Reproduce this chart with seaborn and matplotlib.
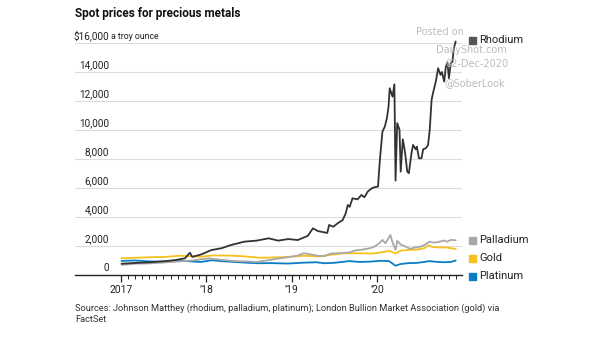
import matplotlib
matplotlib.use("Agg")
import matplotlib.pyplot as plt
import matplotlib.dates as mdates
import matplotlib.transforms as mtrans
import seaborn as sns
import pandas as pd

# ---------------- data ----------------
rhodium_dates = ["2017-01-03", "2017-03-01", "2017-05-05", "2017-07-05", "2017-08-20", "2017-10-01",
                 "2017-10-22", "2017-11-01", "2017-12-10", "2018-01-22", "2018-03-07", "2018-04-16",
                 "2018-06-12", "2018-08-03", "2018-09-24", "2018-11-03", "2018-12-17", "2019-01-26",
                 "2019-03-10", "2019-04-01", "2019-04-22", "2019-06-01", "2019-06-09", "2019-06-27",
                 "2019-07-15", "2019-08-06", "2019-08-19", "2019-08-28", "2019-09-05", "2019-09-17",
                 "2019-10-09", "2019-10-25", "2019-11-07", "2019-11-21", "2019-12-08", "2019-12-20",
                 "2020-01-04", "2020-01-12", "2020-01-23", "2020-02-02", "2020-02-11", "2020-02-18",
                 "2020-02-23", "2020-03-06", "2020-03-14", "2020-03-19", "2020-03-26", "2020-04-05",
                 "2020-04-10", "2020-04-19", "2020-04-29", "2020-05-08", "2020-05-15", "2020-05-26",
                 "2020-06-02", "2020-06-13", "2020-06-18", "2020-06-27", "2020-07-08", "2020-07-15",
                 "2020-07-26", "2020-08-05", "2020-08-12", "2020-08-20", "2020-08-26", "2020-09-07",
                 "2020-09-17", "2020-09-27", "2020-10-03", "2020-10-13", "2020-10-20", "2020-10-27",
                 "2020-11-02", "2020-11-10", "2020-11-17", "2020-11-23", "2020-12-01"]
rhodium_values = [780, 830, 880, 950, 1030, 1150,
                  1540, 1250, 1420, 1720, 1850, 2070,
                  2300, 2370, 2530, 2370, 2480, 2410,
                  2700, 3220, 3030, 2900, 3450, 3330,
                  3560, 3790, 4250, 4830, 4700, 5290,
                  5220, 5520, 5360, 5750, 5980, 6050,
                  6100, 7940, 9890, 10230, 10810, 11600,
                  12880, 12300, 13150, 6510, 10470, 10010,
                  7130, 9360, 8400, 7130, 7020, 8400,
                  8970, 8670, 8850, 8050, 8050, 8670,
                  8740, 8970, 10000, 12070, 12540, 13340,
                  14260, 13800, 14000, 13340, 14370, 14650,
                  13570, 14600, 14700, 15640, 16100]

palladium_dates = ["2017-01-03", "2017-03-01", "2017-05-01", "2017-07-01", "2017-09-01", "2017-11-01",
                   "2018-01-10", "2018-03-01", "2018-05-01", "2018-07-01", "2018-08-01", "2018-09-15",
                   "2018-11-01", "2018-12-17", "2019-01-26", "2019-02-20", "2019-03-20", "2019-04-20",
                   "2019-05-20", "2019-06-15", "2019-07-15", "2019-09-01", "2019-10-01", "2019-11-01",
                   "2019-12-01", "2019-12-20", "2020-01-10", "2020-01-23", "2020-02-05", "2020-02-26",
                   "2020-03-05", "2020-03-19", "2020-03-26", "2020-04-10", "2020-05-01", "2020-05-20",
                   "2020-06-10", "2020-06-30", "2020-07-20", "2020-08-12", "2020-09-01", "2020-09-25",
                   "2020-10-10", "2020-10-25", "2020-11-10", "2020-12-01"]
palladium_values = [700, 780, 800, 860, 930, 1000,
                    1150, 1050, 960, 930, 900, 1000,
                    1130, 1230, 1340, 1500, 1430, 1330,
                    1300, 1480, 1500, 1550, 1700, 1760,
                    1850, 1960, 2200, 2420, 2190, 2760,
                    2300, 1730, 2350, 2100, 1960, 1800,
                    1900, 1940, 2070, 2300, 2230, 2300,
                    2380, 2300, 2420, 2400]

gold_dates = ["2017-01-03", "2017-03-15", "2017-05-15", "2017-07-01", "2017-09-10", "2017-12-10",
              "2018-01-25", "2018-04-10", "2018-06-01", "2018-08-15", "2018-10-01", "2018-12-17",
              "2019-02-20", "2019-05-01", "2019-06-25", "2019-08-15", "2019-10-01", "2019-12-15",
              "2020-01-15", "2020-02-24", "2020-03-19", "2020-04-10", "2020-05-15", "2020-06-20",
              "2020-07-20", "2020-08-06", "2020-08-25", "2020-09-20", "2020-10-20", "2020-12-01"]
gold_values = [1150, 1200, 1230, 1240, 1330, 1260,
               1350, 1340, 1300, 1190, 1200, 1250,
               1330, 1280, 1410, 1500, 1500, 1480,
               1560, 1660, 1480, 1680, 1730, 1750,
               1850, 2050, 1930, 1900, 1900, 1800]

platinum_dates = ["2017-01-03", "2017-03-01", "2017-05-01", "2017-07-01", "2017-09-05", "2017-11-01",
                  "2017-12-10", "2018-01-22", "2018-03-01", "2018-05-01", "2018-07-01", "2018-08-15",
                  "2018-10-01", "2018-12-17", "2019-02-20", "2019-04-15", "2019-05-20", "2019-07-01",
                  "2019-09-05", "2019-10-15", "2019-12-01", "2020-01-15", "2020-02-20", "2020-03-19",
                  "2020-04-10", "2020-05-15", "2020-06-15", "2020-07-20", "2020-08-10", "2020-09-15",
                  "2020-10-15", "2020-11-10", "2020-12-01"]
platinum_values = [970, 1000, 940, 920, 990, 930,
                   900, 1020, 960, 900, 840, 810,
                   820, 790, 850, 880, 810, 840,
                   960, 900, 920, 980, 960, 640,
                   760, 820, 830, 900, 960, 900,
                   880, 900, 1000]

metals = ["Rhodium", "Palladium", "Gold", "Platinum"]
colors = {"Rhodium": "#333333", "Palladium": "#a8a8a8", "Gold": "#f5c21b", "Platinum": "#0a7dc2"}
legend_colors = {"Rhodium": "#555555", "Palladium": "#a8a8a8", "Gold": "#f5c21b", "Platinum": "#0a7dc2"}

y_ticks = [0, 2000, 4000, 6000, 8000, 10000, 12000, 14000, 16000]
y_labels = ["0", "2,000", "4,000", "6,000", "8,000", "10,000", "12,000", "14,000", "$16,000"]
x_ticks = ["2017-01-01", "2018-01-01", "2019-01-01", "2020-01-01"]
x_labels = ["2017", "\u201918", "\u201919", "\u201920"]

title = "Spot prices for precious metals"
unit = "a troy ounce"
source = ("Sources: Johnson Matthey (rhodium, palladium, platinum); London Bullion Market Association (gold) via\n"
          "FactSet")

frames = []
for name, d, v in [("Platinum", platinum_dates, platinum_values),
                   ("Gold", gold_dates, gold_values),
                   ("Palladium", palladium_dates, palladium_values),
                   ("Rhodium", rhodium_dates, rhodium_values)]:
    frames.append(pd.DataFrame({"date": pd.to_datetime(d), "price": v, "metal": name}))
df = pd.concat(frames, ignore_index=True)

# ---------------- style ----------------
sns.set_theme(style="white")
plt.rcParams["font.family"] = ["Roboto", "DejaVu Sans"]

fig = plt.figure(figsize=(6.05, 3.41), dpi=100)
ax = fig.add_axes([75 / 605, 1 - 275 / 341, (462 - 75) / 605, (275 - 43) / 341])

for name in ["Platinum", "Gold", "Palladium", "Rhodium"]:
    sub = df[df["metal"] == name]
    sns.lineplot(data=sub, x="date", y="price", ax=ax, color=colors[name],
                 linewidth=1.3, legend=False, clip_on=False)

ax.set_xlim(pd.Timestamp("2016-06-18"), pd.Timestamp("2020-12-28"))
ax.set_ylim(0, 16000)
ax.set_xlabel("")
ax.set_ylabel("")

for s in ["top", "right", "left"]:
    ax.spines[s].set_visible(False)
ax.spines["bottom"].set_color("#222222")
ax.spines["bottom"].set_linewidth(1.0)

for v in y_ticks[1:]:
    ax.axhline(v, color="#dcdcdc", linewidth=0.8, zorder=0)
ax.set_yticks([])

ax.set_xticks(pd.to_datetime(x_ticks))
ax.set_xticklabels(x_labels, fontsize=7.5, color="#222222")
minor = pd.date_range("2017-01-01", "2020-12-01", freq="MS")
ax.set_xticks(minor, minor=True)
ax.tick_params(axis="x", which="major", length=5, width=0.9, color="#222222", pad=2, bottom=True)
ax.tick_params(axis="x", which="minor", length=3, width=0.7, color="#222222", bottom=True)

trans = mtrans.blended_transform_factory(ax.transAxes, ax.transData)
xr = (109 - 75) / (462 - 75)
for v, lab in zip(y_ticks, y_labels):
    ax.text(xr, v + 150, lab, transform=trans, ha="right", va="bottom",
            fontsize=7.2, color="#222222")
ax.text(xr + 0.006, 16150, unit, transform=trans, ha="left", va="bottom",
        fontsize=6.3, color="#222222")

# title and source
fig.text(75 / 605, 1 - 13 / 341, title, fontsize=8.5, fontweight="bold", color="#111111",
         ha="left", va="center")
fig.text(75 / 605, 1 - 303 / 341, source, fontsize=6.7, color="#333333", ha="left", va="top",
         linespacing=1.35)

# legend-style labels
leg_pos = {"Rhodium": 40, "Palladium": 240, "Gold": 258, "Platinum": 276}
for name in metals:
    yy = 1 - leg_pos[name] / 341
    fig.patches.append(plt.Rectangle((469 / 605, yy - 3.5 / 341), 7 / 605, 7 / 341,
                                     transform=fig.transFigure, color=legend_colors[name]))
    fig.text(479 / 605, yy, name, fontsize=8, color="#222222", ha="left", va="center")

# watermark
wm = [("Posted on", 440, 32), ("DailyShot.com", 471, 50), ("02-Dec-2020", 477, 64), ("@SoberLook", 475, 83)]
for t, xx, yy in wm:
    fig.text(xx / 605, 1 - yy / 341, t, fontsize=7, color="#b5b5b5", ha="center", va="center",
             family=["DejaVu Sans"], alpha=0.9)

fig.savefig("out.png", dpi=100)
